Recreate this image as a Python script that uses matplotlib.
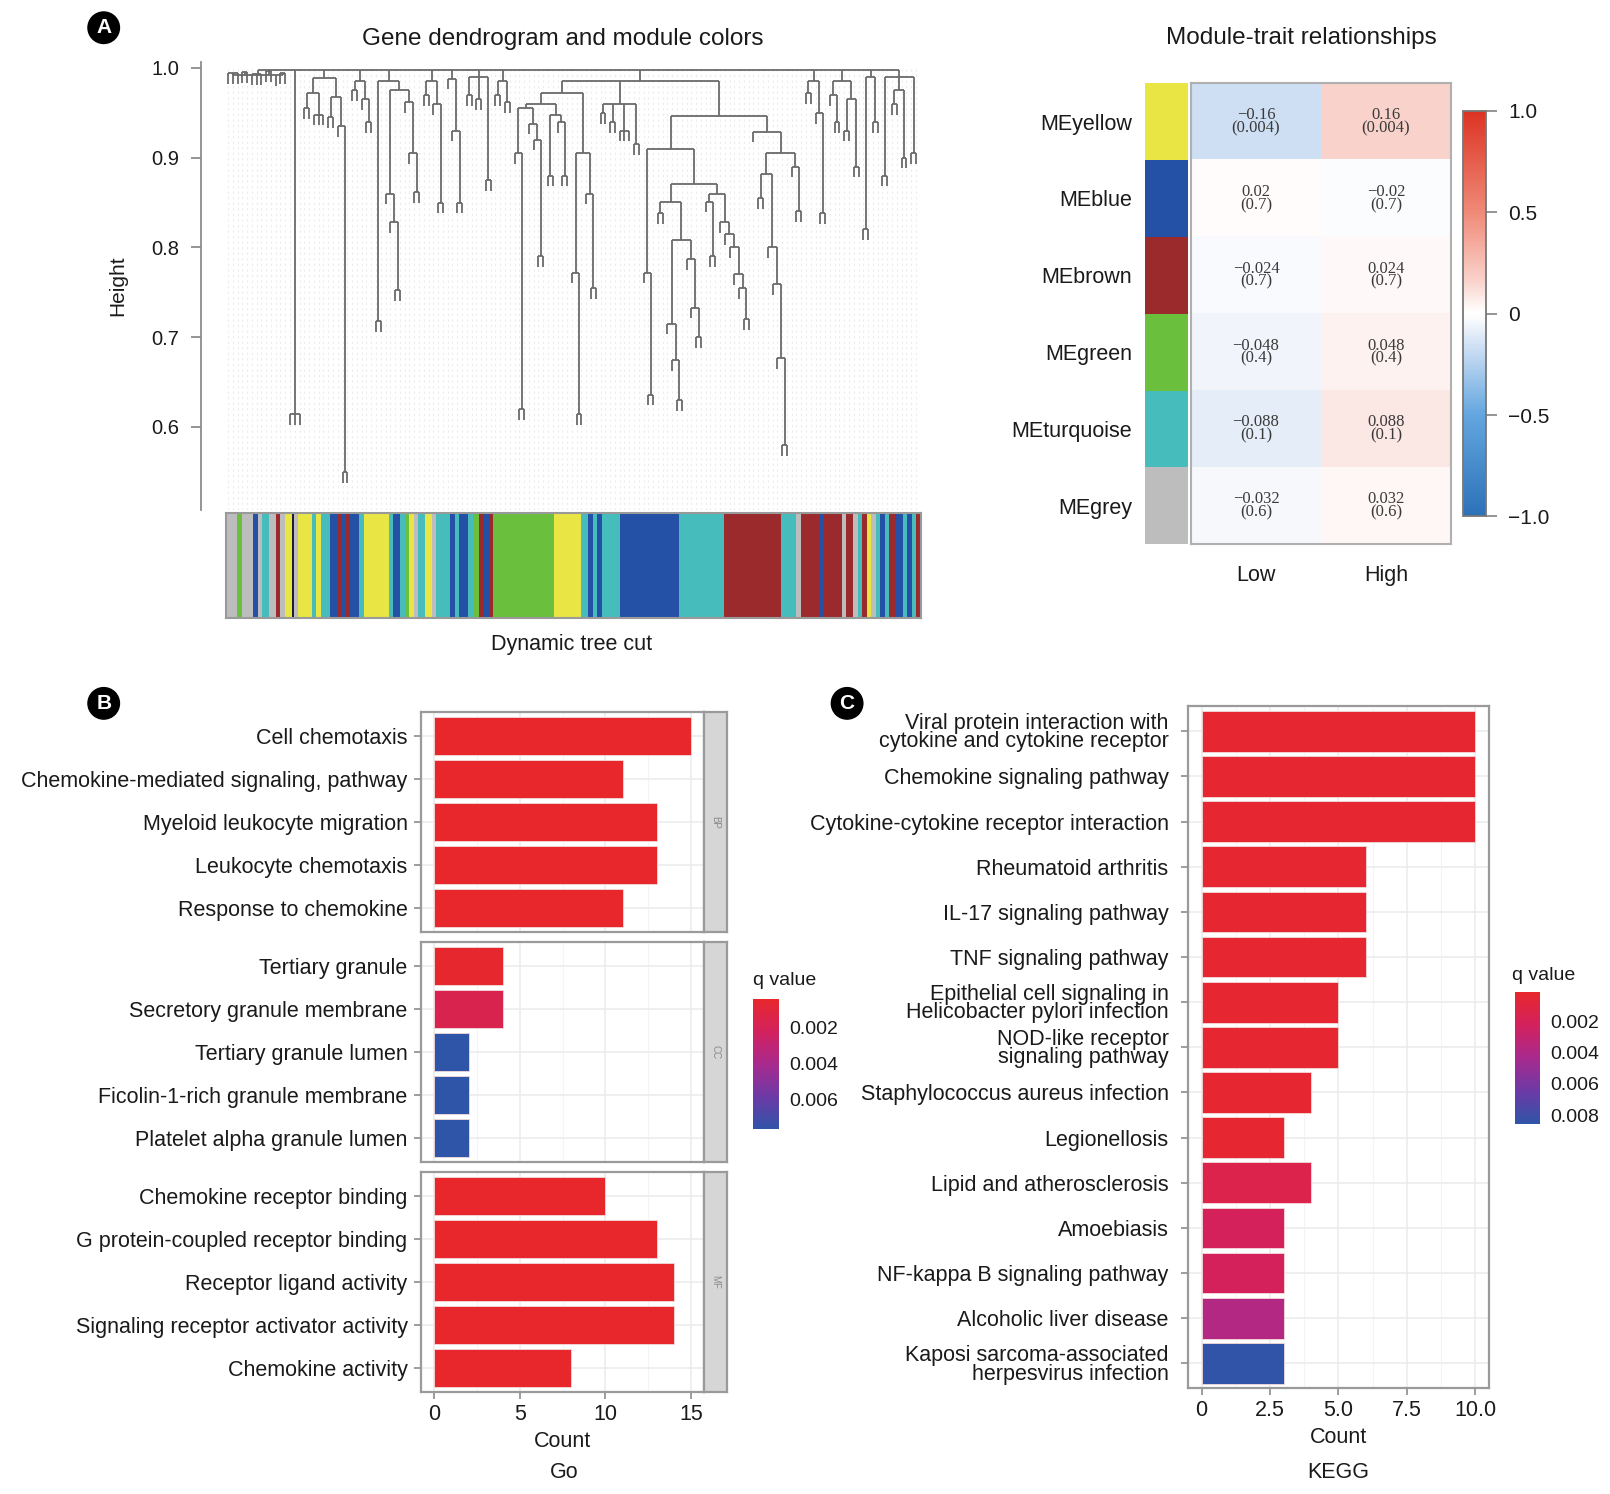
import matplotlib
matplotlib.use("Agg")
import matplotlib.pyplot as plt
import numpy as np
from matplotlib.collections import LineCollection
from matplotlib.colors import LinearSegmentedColormap, Normalize
from matplotlib.cm import ScalarMappable

plt.rcParams["font.family"] = ["Liberation Sans", "DejaVu Sans"]

# ---------------- data: panel A ----------------
L = None  # a leaf of the gene tree
grp_a = (0.992, [(0.994, [L, L, L]), (0.995, [L, L]), (0.993, [L, L, L]), (0.996, [L, L]), L, (0.994, [L, L])])
grp_b = (0.614, [L, L, L])
grp_c = (0.989, [(0.972, [(0.955, [L, L]), (0.948, [L, L, L])]),
                 (0.968, [(0.945, [L, L]), (0.935, [L, (0.55, [L, L])])])])
grp_d = (0.985, [(0.975, [L, L]), (0.965, [L, (0.94, [L, L])])])
grp_e = (0.985, [(0.718, [L, L]),
                 (0.975, [(0.86, [L, (0.828, [L, (0.752, [L, L])])]),
                          (0.962, [L, (0.905, [L, (0.862, [L, L])])])])])
grp_f = (0.985, [(0.97, [L, L]), (0.96, [L, (0.85, [L, L])])])
grp_g = (0.988, [L, (0.93, [L, (0.85, [L, L])])])
grp_h = (0.99, [(0.97, [L, L]), (0.965, [L, L]), (0.875, [L, L])])
grp_i = (0.985, [(0.97, [L, L]), (0.962, [L, L])])
grp_j = (0.96, [(0.955, [(0.905, [L, (0.62, [L, L])]), (0.938, [L, (0.92, [L, (0.79, [L, L])])])]),
                (0.948, [(0.88, [L, L]), (0.94, [L, (0.88, [L, L])])])])
grp_k = (0.905, [(0.772, [L, (0.614, [L, L])]), (0.86, [L, (0.755, [L, L])])])
grp_l = (0.96, [(0.95, [L, L]), (0.94, [L, L]), (0.93, [L, L, L]), (0.915, [L, L])])
grp_m = (0.91, [(0.772, [L, (0.636, [L, L])]),
                (0.871, [(0.851, [(0.838, [L, L]),
                                  (0.808, [(0.715, [L, (0.674, [L, (0.63, [L, L])])]),
                                           (0.787, [L, (0.733, [L, (0.70, [L, L])])])])]),
                         (0.86, [(0.851, [L, (0.79, [L, L])]),
                                 (0.828, [L, (0.815, [L, (0.80, [L, (0.77, [L, (0.755, [L, (0.72, [L, L])])])])])])])])])
grp_n = (0.929, [L, (0.905, [(0.882, [(0.855, [L, L]), (0.80, [L, (0.759, [L, (0.677, [L, (0.58, [L, L])])])])]),
                             (0.89, [L, (0.84, [L, L])])])])
grp_o = (0.985, [(0.972, [L, L]), (0.95, [L, (0.838, [L, L])])])
grp_p = (0.985, [(0.97, [L, (0.94, [L, L])]), (0.965, [(0.93, [L, L]), (0.89, [L, L])])])
grp_q = (0.99, [(0.82, [L, L]), (0.94, [L, L])])
grp_r = (0.99, [(0.88, [L, L]), (0.975, [(0.96, [L, L]), (0.90, [L, L])]), (0.905, [L, L])])
grp_mid = (0.985, [(0.972, [grp_j, grp_k]), grp_l, (0.946, [grp_m, grp_n])])
gene_tree = (0.998, [grp_a, grp_b, grp_c, grp_d, grp_e, grp_f, grp_g, grp_h, grp_i,
                     grp_mid, grp_o, grp_p, grp_q, grp_r])

module_rgb = {"grey": "#bdbdbd", "green": "#6abf3c", "blue": "#2451a6", "turquoise": "#46bcbc",
              "brown": "#9b2a2d", "yellow": "#e8e544", "black": "#1c1c3a"}
cut_colors = ["grey", "green", "grey", "blue", "grey", "turquoise", "grey", "brown", "grey", "yellow",
              "black", "grey", "yellow", "turquoise", "yellow", "turquoise", "blue", "brown", "blue", "brown",
              "blue", "turquoise", "yellow", "turquoise", "blue", "turquoise", "green", "yellow", "grey",
              "turquoise", "yellow", "grey", "turquoise", "blue", "turquoise", "blue", "turquoise", "green",
              "brown", "blue", "brown", "green", "yellow", "turquoise", "blue", "turquoise", "blue",
              "turquoise", "blue", "turquoise", "brown", "turquoise", "grey", "brown", "blue", "brown",
              "grey", "brown", "grey", "turquoise", "brown", "yellow", "grey", "turquoise", "blue",
              "turquoise", "brown", "blue", "turquoise", "blue", "turquoise", "brown"]
cut_widths = [25, 10, 25, 10, 10, 15, 15, 10, 10, 15,
              5, 10, 30, 10, 10, 20, 15, 10, 10, 10,
              20, 10, 55, 10, 15, 10, 10, 10, 10,
              15, 15, 10, 30, 10, 10, 20, 10, 15,
              10, 10, 10, 135, 60, 15, 10, 10, 10,
              40, 130, 100, 125, 35, 10, 40, 10, 40,
              10, 15, 10, 10, 10, 10, 10, 10, 10,
              10, 15, 15, 10, 10, 10, 10]

modules = ["MEyellow", "MEblue", "MEbrown", "MEgreen", "MEturquoise", "MEgrey"]
module_cols = ["yellow", "blue", "brown", "green", "turquoise", "grey"]
traits = ["Low", "High"]
cor_low = [-0.16, 0.02, -0.024, -0.048, -0.088, -0.032]
cor_high = [0.16, -0.02, 0.024, 0.048, 0.088, 0.032]
p_vals = ["0.004", "0.7", "0.7", "0.4", "0.1", "0.6"]

# ---------------- data: panel B ----------------
bp_terms = ["Cell chemotaxis", "Chemokine-mediated signaling, pathway", "Myeloid leukocyte migration",
            "Leukocyte chemotaxis", "Response to chemokine"]
bp_count = [15, 11, 13, 13, 11]
bp_q = [0.0004, 0.0004, 0.0004, 0.0004, 0.0004]
cc_terms = ["Tertiary granule", "Secretory granule membrane", "Tertiary granule lumen",
            "Ficolin-1-rich granule membrane", "Platelet alpha granule lumen"]
cc_count = [4, 4, 2, 2, 2]
cc_q = [0.0005, 0.0017, 0.0077, 0.0077, 0.0077]
mf_terms = ["Chemokine receptor binding", "G protein-coupled receptor binding", "Receptor ligand activity",
            "Signaling receptor activator activity", "Chemokine activity"]
mf_count = [10, 13, 14, 14, 8]
mf_q = [0.0004, 0.0004, 0.0004, 0.0004, 0.0004]

# ---------------- data: panel C ----------------
kegg_terms = ["Viral protein interaction with\ncytokine and cytokine receptor", "Chemokine signaling pathway",
              "Cytokine-cytokine receptor interaction", "Rheumatoid arthritis", "IL-17 signaling pathway",
              "TNF signaling pathway", "Epithelial cell signaling in\nHelicobacter pylori infection",
              "NOD-like receptor\nsignaling pathway", "Staphylococcus aureus infection", "Legionellosis",
              "Lipid and atherosclerosis", "Amoebiasis", "NF-kappa B signaling pathway",
              "Alcoholic liver disease", "Kaposi sarcoma-associated\nherpesvirus infection"]
kegg_count = [10, 10, 10, 6, 6, 6, 5, 5, 4, 3, 4, 3, 3, 3, 3]
kegg_q = [0.0003, 0.0003, 0.0003, 0.0003, 0.0003, 0.0003, 0.0003, 0.0003, 0.0003, 0.0003,
          0.0014, 0.0021, 0.0021, 0.0038, 0.0085]

# ---------------- layout helpers ----------------
W, H = 1568.0, 1455.0


def rect(x0, y0, x1, y1):
    return [x0 / W, 1 - y1 / H, (x1 - x0) / W, (y1 - y0) / H]


def ftext(x, y, s, **kw):
    return fig.text(x / W, 1 - y / H, s, **kw)


fig = plt.figure(figsize=(16.1, 14.94), dpi=100)
TXT = "#1a1a1a"
GRAY = "#8c8c8c"

for lab, x, y in [("A", 101, 27), ("B", 101, 685), ("C", 825, 685)]:
    ftext(x, y, lab, ha="center", va="center", color="white", fontsize=15, fontweight="bold",
          bbox=dict(boxstyle="circle,pad=0.3", fc="black", ec="black"))

# ---------------- A: dendrogram ----------------
segs, leaf_x = [], []
hang = 0.012


def walk(node):
    h, kids = node
    xs = []
    for k in kids:
        if k is None:
            x = len(leaf_x)
            leaf_x.append(x)
            segs.append([(x, h), (x, h - hang)])
        else:
            x, kh = walk(k)
            segs.append([(x, h), (x, kh)])
        xs.append(x)
    segs.append([(min(xs), h), (max(xs), h)])
    return (min(xs) + max(xs)) / 2, h


walk(gene_tree)
n = len(leaf_x)
unit = (892 - 222) / (n - 1)
ax = fig.add_axes(rect(196, 60, 900, 497))
ax.vlines(leaf_x, 0.507, 1.0, colors="#ececec", linestyles=(0, (2, 3)), lw=0.8)
ax.add_collection(LineCollection(segs, colors="#6a6a6a", linewidths=1.3))
ax.set_xlim(-(222 - 196) / unit, n - 1 + (900 - 892) / unit)
ax.set_ylim(0.507, 1.007)
for s in ["top", "right", "bottom"]:
    ax.spines[s].set_visible(False)
ax.spines["left"].set_color(GRAY)
ax.spines["left"].set_linewidth(1.3)
ax.set_xticks([])
ax.set_yticks([0.6, 0.7, 0.8, 0.9, 1.0])
ax.set_yticklabels(["0.6", "0.7", "0.8", "0.9", "1.0"])
ax.tick_params(axis="y", colors=GRAY, labelcolor=TXT, labelsize=14.5, length=7, width=1.3, pad=9)
ax.set_ylabel("Height", fontsize=15, color=TXT, labelpad=17)
ax.set_title("Gene dendrogram and module colors", fontsize=17.5, color=TXT, pad=12)

axc = fig.add_axes(rect(220, 500, 897, 602))
lefts = np.concatenate([[0], np.cumsum(cut_widths)[:-1]])
axc.bar(lefts, 1, width=cut_widths, align="edge", color=[module_rgb[c] for c in cut_colors], lw=0)
axc.set_xlim(0, sum(cut_widths))
axc.set_ylim(0, 1)
axc.set_xticks([])
axc.set_yticks([])
for s in axc.spines.values():
    s.set_color("#9a9a9a")
    s.set_linewidth(1.5)
ftext(557, 628, "Dynamic tree cut", ha="center", va="center", fontsize=15.5, color=TXT)

# ---------------- A: module-trait heatmap ----------------
cor_cmap = LinearSegmentedColormap.from_list(
    "bwr_wgcna", [(0, "#2c71b8"), (0.25, "#63a6df"), (0.42, "#cfe0f4"), (0.49, "#fbfcfe"), (0.5, "#ffffff"),
                  (0.51, "#fffcfb"), (0.58, "#f9d3cc"), (0.75, "#f08a78"), (1, "#dc3323")])
mat = np.column_stack([cor_low, cor_high])
axh = fig.add_axes(rect(1160, 81, 1413, 530))
axh.imshow(mat, cmap=cor_cmap, vmin=-1, vmax=1, aspect="auto")
for i in range(len(modules)):
    for j, v in enumerate(mat[i]):
        s = ("%g" % v).replace("-", "\u2212")
        axh.text(j, i, s + "\n(" + p_vals[i] + ")", ha="center", va="center", fontsize=12,
                 family=["Liberation Serif", "DejaVu Serif"], color="#3a3a3a", linespacing=0.75)
axh.set_xticks(range(2))
axh.set_xticklabels(traits)
axh.set_yticks([])
axh.tick_params(axis="x", length=0, labelsize=15.5, labelcolor=TXT, pad=15)
for s in axh.spines.values():
    s.set_color("#b0b0b0")
    s.set_linewidth(1.5)

axm = fig.add_axes(rect(1115, 81, 1157, 530))
axm.barh(range(6), 1, height=1, color=[module_rgb[c] for c in module_cols], lw=0)
axm.set_ylim(5.5, -0.5)
axm.set_xlim(0, 1)
axm.set_xticks([])
axm.set_yticks(range(6))
axm.set_yticklabels(modules)
axm.tick_params(axis="y", length=0, labelsize=15.5, labelcolor=TXT, pad=9)
for s in axm.spines.values():
    s.set_visible(False)
ftext(1267, 37, "Module-trait relationships", ha="center", va="center", fontsize=17.5, color=TXT)

axcb = fig.add_axes(rect(1425, 108, 1447, 503))
cb = fig.colorbar(ScalarMappable(Normalize(-1, 1), cor_cmap), cax=axcb)
cb.set_ticks([-1, -0.5, 0, 0.5, 1])
cb.set_ticklabels(["\u22121.0", "\u22120.5", "0", "0.5", "1.0"])
cb.outline.set_edgecolor("#777777")
cb.outline.set_linewidth(1.3)
axcb.tick_params(colors=GRAY, labelcolor=TXT, labelsize=15, length=8, width=1.3, pad=8)

# ---------------- q value colour scale ----------------
q_cmap = LinearSegmentedColormap.from_list(
    "q", ["#e8272c", "#d3215e", "#a82a8e", "#6c3aa6", "#2f55a8"])


def style_panel(a):
    for s in a.spines.values():
        s.set_color("#9a9a9a")
        s.set_linewidth(1.6)
    a.set_axisbelow(True)
    a.grid(True, which="major", color="#e8ecea", lw=1.1)
    a.grid(True, which="minor", color="#f2f5f3", lw=0.8)
    a.tick_params(colors=GRAY, labelcolor=TXT, labelsize=15.5, length=5, width=1.2)


def q_legend(x0, y0, x1, y1, vmin, vmax, ticks, title_xy):
    a = fig.add_axes(rect(x0, y0, x1, y1))
    c = fig.colorbar(ScalarMappable(Normalize(vmin, vmax), q_cmap), cax=a)
    a.invert_yaxis()
    c.set_ticks(ticks)
    c.set_ticklabels(["%.3f" % t for t in ticks])
    c.outline.set_visible(False)
    a.tick_params(length=0, labelsize=14, labelcolor=TXT, pad=7)
    ftext(title_xy[0], title_xy[1], "q value", ha="left", va="center", fontsize=14, color=TXT)


# ---------------- B: GO facets ----------------
facets = [("BP", bp_terms, bp_count, bp_q, 693, 908),
          ("CC", cc_terms, cc_count, cc_q, 917, 1132),
          ("MF", mf_terms, mf_count, mf_q, 1141, 1356)]
q_norm_b = Normalize(0.0004, 0.0077)
for k, (name, terms, counts, qs, y0, y1) in enumerate(facets):
    a = fig.add_axes(rect(410.5, y0, 685.5, y1))
    ypos = np.arange(len(terms))
    a.barh(ypos, counts, height=0.9, color=q_cmap(q_norm_b(np.array(qs))), edgecolor="#f4dada", lw=0.6)
    a.set_ylim(len(terms) - 0.43, -0.57)
    a.set_xlim(-0.75, 15.75)
    a.set_yticks(ypos)
    a.set_yticklabels(terms)
    a.set_xticks([0, 5, 10, 15])
    a.set_xticks([2.5, 7.5, 12.5], minor=True)
    style_panel(a)
    a.tick_params(axis="y", which="minor", length=0)
    a.tick_params(axis="x", which="minor", length=0)
    a.tick_params(axis="y", pad=5)
    if k < 2:
        a.tick_params(axis="x", length=0, labelbottom=False)
    else:
        a.set_xticklabels(["0", "5", "10", "15"])
        a.set_xlabel("Count", fontsize=15.5, color=TXT, labelpad=4)
    st = fig.add_axes(rect(685.5, y0, 708, y1))
    st.set_facecolor("#d6d6d6")
    st.set_xticks([])
    st.set_yticks([])
    for s in st.spines.values():
        s.set_color("#9a9a9a")
        s.set_linewidth(1.6)
    st.text(0.5, 0.5, name, rotation=-90, ha="center", va="center", fontsize=7, color="#8a8a8a",
            transform=st.transAxes)
ftext(549, 1434, "Go", ha="center", va="center", fontsize=15.5, color=TXT)
q_legend(733, 973, 759, 1100, 0.0004, 0.0077, [0.002, 0.004, 0.006], (733, 955))

# ---------------- C: KEGG ----------------
q_norm_c = Normalize(0.0001, 0.0086)
a = fig.add_axes(rect(1157, 688, 1450, 1352))
ypos = np.arange(len(kegg_terms))
a.barh(ypos, kegg_count, height=0.9, color=q_cmap(q_norm_c(np.array(kegg_q))), edgecolor="#f4dada", lw=0.6)
a.set_ylim(len(kegg_terms) - 0.45, -0.55)
a.set_xlim(-0.5, 10.5)
a.set_yticks(ypos)
a.set_yticklabels(kegg_terms, linespacing=0.85)
a.set_xticks([0, 2.5, 5, 7.5, 10])
a.set_xticklabels(["0", "2.5", "5.0", "7.5", "10.0"])
a.set_xticks([1.25, 3.75, 6.25, 8.75], minor=True)
style_panel(a)
a.tick_params(which="minor", length=0)
a.tick_params(axis="y", pad=9)
a.set_xlabel("Count", fontsize=15.5, color=TXT, labelpad=4)
ftext(1303, 1434, "KEGG", ha="center", va="center", fontsize=15.5, color=TXT)
q_legend(1475, 966, 1500, 1095, 0.0001, 0.0086, [0.002, 0.004, 0.006, 0.008], (1473, 950))

fig.savefig("out.png", dpi=100)
